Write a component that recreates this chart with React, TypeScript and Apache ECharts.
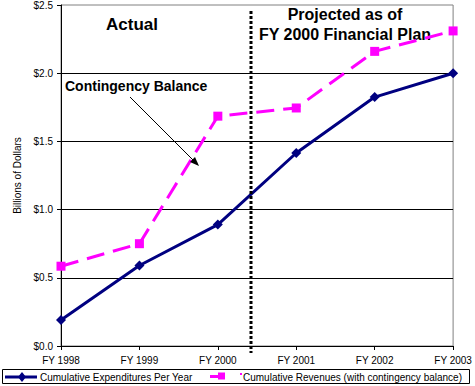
import React, { useEffect, useRef } from "react";
import * as echarts from "echarts";

const years = ["FY 1998", "FY 1999", "FY 2000", "FY 2001", "FY 2002", "FY 2003"];
const expenditures = [0.19, 0.59, 0.89, 1.415, 1.825, 2.0];
const revenues = [0.585, 0.75, 1.685, 1.745, 2.16, 2.31];
const yTicks = [0, 0.5, 1.0, 1.5, 2.0, 2.5];

const NAVY = "#000080";
const MAGENTA = "#FF00FF";
const FONT = "Liberation Sans, Arial, sans-serif";

export default function App() {
  const ref = useRef<HTMLDivElement>(null);

  useEffect(() => {
    if (!ref.current) return;
    const chart = echarts.init(ref.current, null, { renderer: "svg" });
    chart.setOption({
      animation: false,
      backgroundColor: "#ffffff",
      textStyle: { fontFamily: FONT },
      grid: {
        left: 61,
        right: 19,
        top: 5,
        bottom: 40,
        show: true,
        borderColor: "#808080",
        borderWidth: 1,
        backgroundColor: "transparent",
      },
      xAxis: {
        type: "category",
        data: years,
        boundaryGap: false,
        axisLine: { lineStyle: { color: "#000", width: 1 } },
        axisTick: { show: true, length: 4, inside: false, lineStyle: { color: "#000" } },
        axisLabel: { color: "#000", fontSize: 10, fontFamily: FONT, margin: 9, interval: 0 },
        splitLine: { show: false },
      },
      yAxis: {
        type: "value",
        min: yTicks[0],
        max: yTicks[yTicks.length - 1],
        interval: 0.5,
        name: "Billions of Dollars",
        nameLocation: "middle",
        nameGap: 35,
        nameRotate: 90,
        nameTextStyle: { color: "#000", fontSize: 10, fontFamily: FONT },
        axisLine: { show: true, lineStyle: { color: "#000", width: 1 } },
        axisTick: { show: true, length: 4, lineStyle: { color: "#000" } },
        axisLabel: {
          color: "#000",
          fontSize: 10,
          fontFamily: FONT,
          margin: 8,
          formatter: (v: number) => "$" + v.toFixed(1),
        },
        splitLine: { show: true, showMaxLine: false, lineStyle: { color: "#000", width: 1 } },
      },
      series: [
        {
          name: "Cumulative Expenditures Per Year",
          type: "line",
          data: expenditures,
          symbol: "diamond",
          symbolSize: 10,
          itemStyle: { color: NAVY },
          lineStyle: { color: NAVY, width: 3 },
          z: 3,
        },
        {
          name: "Cumulative Revenues (with contingency balance)",
          type: "line",
          data: revenues,
          symbol: "rect",
          symbolSize: 9,
          itemStyle: { color: MAGENTA },
          lineStyle: { color: MAGENTA, width: 3, type: [18, 9] },
          z: 2,
        },
      ],
      graphic: [
        // boundary between actual and projected years
        {
          type: "line",
          shape: { x1: 251, y1: 11, x2: 251, y2: 353 },
          style: { stroke: "#000", lineWidth: 3, lineDash: [3, 2] },
          z: 10,
        },
        {
          type: "text",
          x: 132,
          y: 24,
          style: {
            text: "Actual",
            font: "bold 17px " + FONT,
            fill: "#000",
            align: "center",
            verticalAlign: "middle",
          },
        },
        {
          type: "text",
          x: 345,
          y: 14,
          style: {
            text: "Projected as of",
            font: "bold 16px " + FONT,
            fill: "#000",
            align: "center",
            verticalAlign: "middle",
          },
        },
        {
          type: "text",
          x: 345,
          y: 34,
          style: {
            text: "FY 2000 Financial Plan",
            font: "bold 16px " + FONT,
            fill: "#000",
            align: "center",
            verticalAlign: "middle",
          },
        },
        {
          type: "text",
          x: 65,
          y: 86,
          style: {
            text: "Contingency Balance",
            font: "bold 14px " + FONT,
            fill: "#000",
            align: "left",
            verticalAlign: "middle",
          },
        },
        // annotation arrow
        {
          type: "line",
          shape: { x1: 130, y1: 97, x2: 193, y2: 160 },
          style: { stroke: "#000", lineWidth: 1 },
          z: 10,
        },
        {
          type: "polygon",
          shape: { points: [[199, 166], [190, 162], [195, 157]] },
          style: { fill: "#000" },
          z: 10,
        },
        // legend
        {
          type: "rect",
          shape: { x: 2.5, y: 369.5, width: 467, height: 14 },
          style: { fill: "#fff", stroke: "#000", lineWidth: 1 },
        },
        {
          type: "line",
          shape: { x1: 5, y1: 377, x2: 37, y2: 377 },
          style: { stroke: NAVY, lineWidth: 3 },
        },
        {
          type: "polygon",
          shape: { points: [[22, 372], [26, 377], [22, 382], [18, 377]] },
          style: { fill: NAVY },
        },
        {
          type: "text",
          x: 40,
          y: 377,
          style: {
            text: "Cumulative Expenditures Per Year",
            fontSize: 10,
            fontFamily: FONT,
            fill: "#000",
            verticalAlign: "middle",
          },
        },
        {
          type: "line",
          shape: { x1: 210, x2: 222, y1: 376.5, y2: 376.5 },
          style: { stroke: MAGENTA, lineWidth: 3 },
        },
        {
          type: "rect",
          shape: { x: 218, y: 372.5, width: 7, height: 7 },
          style: { fill: MAGENTA },
        },
        {
          type: "rect",
          shape: { x: 240, y: 373, width: 2, height: 2 },
          style: { fill: MAGENTA },
        },
        {
          type: "text",
          x: 243,
          y: 377,
          style: {
            text: "Cumulative Revenues (with contingency balance)",
            fontSize: 10,
            fontFamily: FONT,
            fill: "#000",
            verticalAlign: "middle",
          },
        },
      ],
    });
    return () => chart.dispose();
  }, []);

  return (
    <div
      ref={ref}
      style={{ position: "fixed", left: 0, top: 0, width: 475, height: 386, background: "#fff" }}
    />
  );
}
